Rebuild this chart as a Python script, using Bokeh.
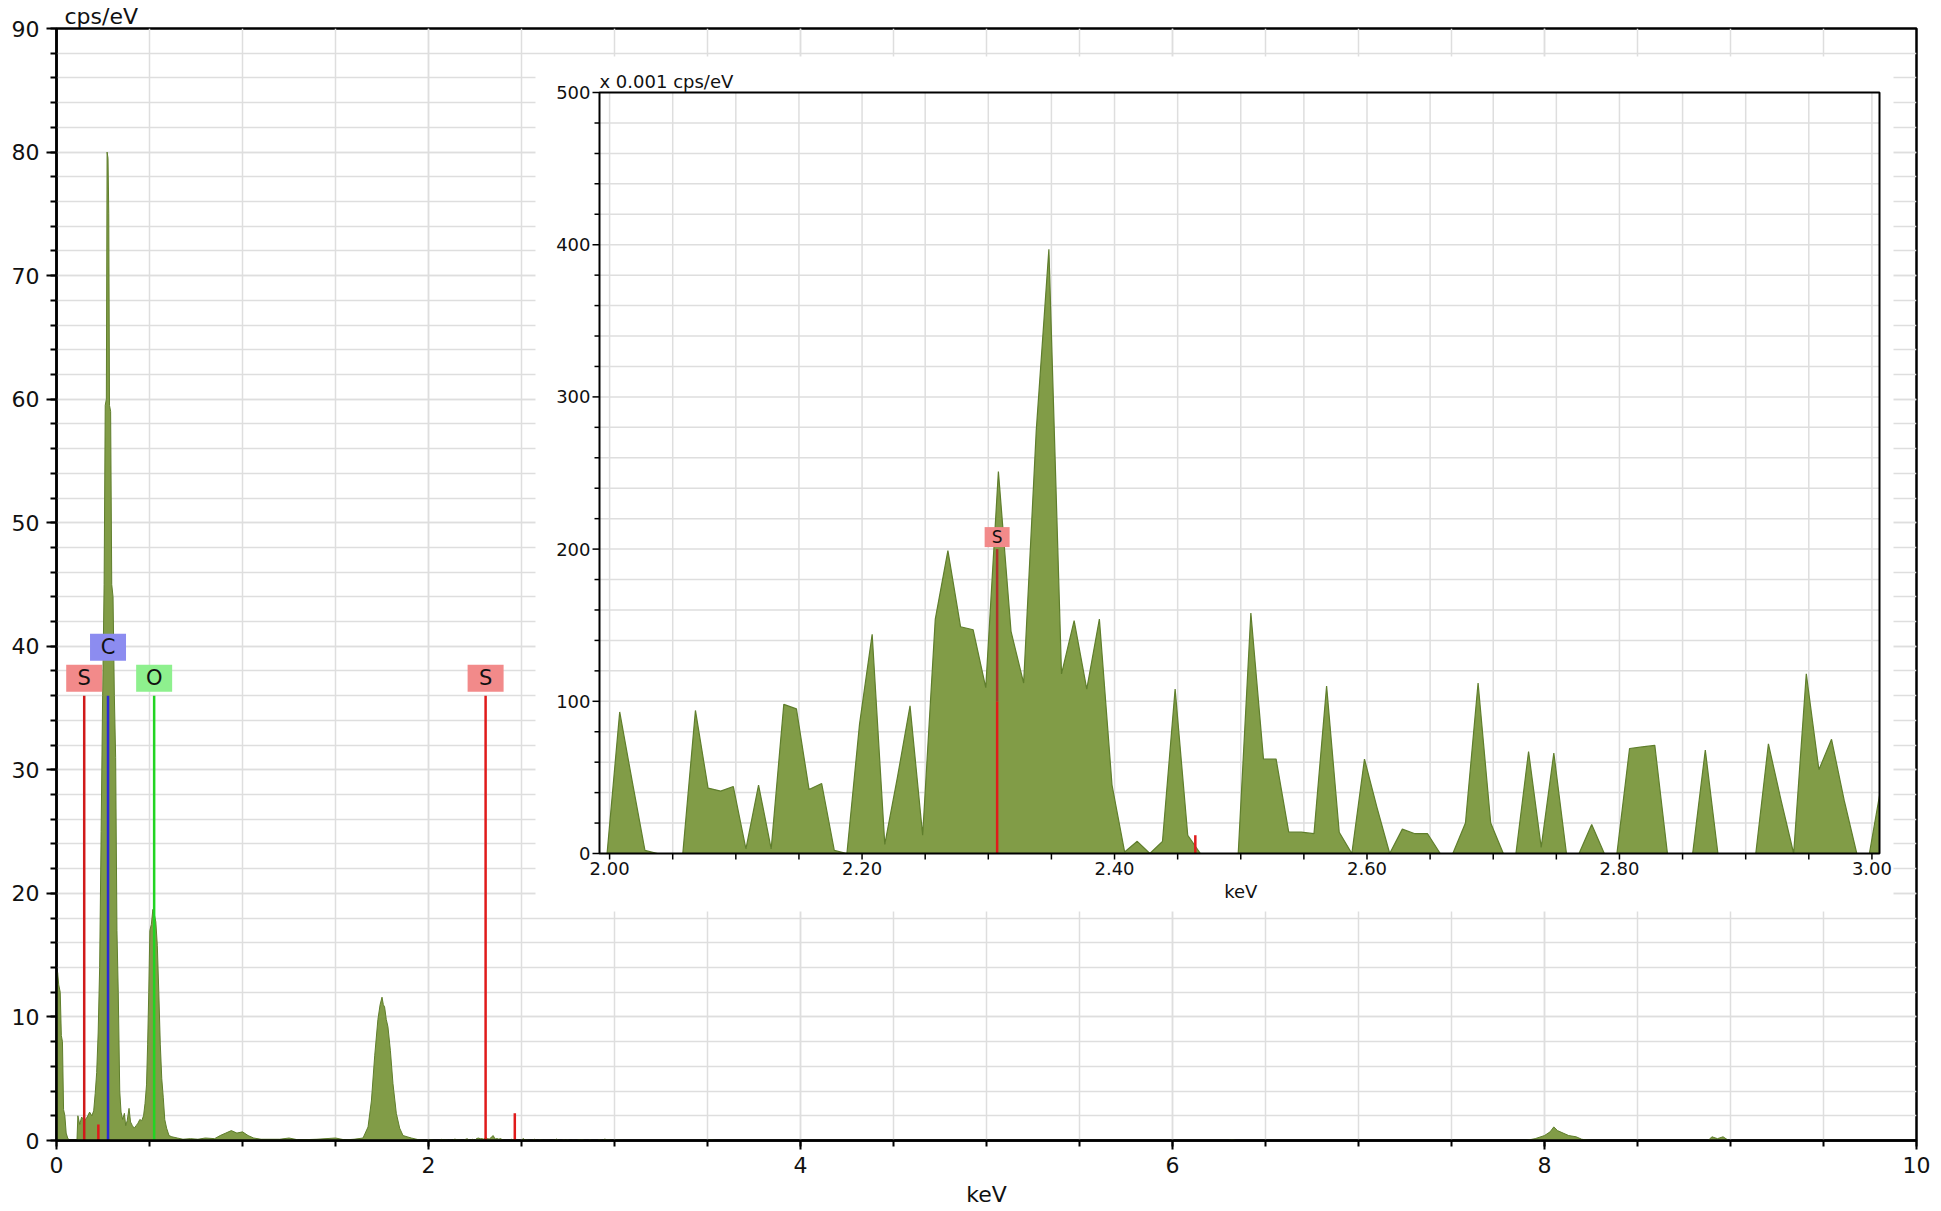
import math
from bokeh.plotting import figure
from bokeh.models import Range1d, SingleIntervalTicker
from bokeh.core.properties import value
from bokeh.embed import file_html
from bokeh.resources import INLINE

# ---------------- data ----------------
# main spectrum (keV, cps/eV) below 2 keV
main_kev_lo = [0.000, 0.006, 0.012, 0.020, 0.026, 0.032, 0.038, 0.045, 0.052, 0.060,
               0.070, 0.110, 0.115, 0.125, 0.135, 0.150, 0.165, 0.178, 0.190, 0.200,
               0.208, 0.216, 0.224, 0.232, 0.240, 0.248, 0.256, 0.262, 0.268, 0.272,
               0.277, 0.281, 0.285, 0.291, 0.297, 0.304, 0.311, 0.318, 0.325, 0.332,
               0.340, 0.347, 0.356, 0.365, 0.372, 0.380, 0.390, 0.398, 0.408, 0.418,
               0.428, 0.438, 0.448, 0.458, 0.468, 0.476, 0.484, 0.490, 0.496, 0.502,
               0.510, 0.518, 0.526, 0.534, 0.542, 0.550, 0.558, 0.566, 0.574, 0.582,
               0.592, 0.605, 0.620, 0.650, 0.680, 0.720, 0.760, 0.800, 0.850, 0.880,
               0.910, 0.940, 0.970, 1.000, 1.030, 1.060, 1.100, 1.200, 1.250, 1.300,
               1.400, 1.500, 1.550, 1.600, 1.648, 1.675, 1.693, 1.711, 1.728, 1.740,
               1.750, 1.757, 1.764, 1.773, 1.782, 1.795, 1.809, 1.827, 1.845, 1.863,
               1.885, 1.908, 1.950, 1.990]
main_cps_lo = [11.5, 13.6, 12.6, 12.0, 8.5, 8.0, 2.5, 2.0, 0.6, 0.2,
               0.0, 0.0, 2.0, 1.3, 1.9, 1.6, 1.9, 2.3, 2.0, 2.4,
               3.8, 5.5, 8.7, 14.0, 25.0, 36.0, 45.0, 59.5, 60.0, 80.0,
               79.5, 75.0, 59.5, 59.0, 45.0, 44.0, 36.0, 31.0, 17.0, 12.0,
               4.0, 2.3, 1.7, 2.2, 1.2, 1.6, 2.6, 1.5, 1.2, 1.0,
               1.2, 1.4, 1.7, 1.6, 2.0, 3.0, 4.5, 7.8, 12.0, 17.0,
               17.5, 18.7, 18.3, 17.7, 15.8, 12.0, 7.8, 5.0, 3.5, 1.7,
               1.0, 0.4, 0.3, 0.2, 0.1, 0.15, 0.1, 0.2, 0.15, 0.4,
               0.6, 0.8, 0.6, 0.7, 0.4, 0.2, 0.1, 0.1, 0.2, 0.05,
               0.1, 0.2, 0.05, 0.1, 0.2, 1.1, 3.2, 6.9, 9.8, 11.0,
               11.6, 11.0, 10.8, 9.8, 9.2, 7.3, 4.6, 2.2, 1.0, 0.4,
               0.3, 0.2, 0.05, 0.0]

# zoomed region 2-3 keV (x 0.001 cps/eV)
inset_kev = [1.998, 2.008, 2.018, 2.028, 2.038, 2.048, 2.058, 2.068, 2.078, 2.088,
             2.098, 2.108, 2.118, 2.128, 2.138, 2.148, 2.158, 2.168, 2.178, 2.188,
             2.198, 2.208, 2.218, 2.228, 2.238, 2.248, 2.258, 2.268, 2.278, 2.288,
             2.298, 2.308, 2.318, 2.328, 2.338, 2.348, 2.358, 2.368, 2.378, 2.388,
             2.398, 2.408, 2.418, 2.428, 2.438, 2.448, 2.458, 2.468, 2.478, 2.488,
             2.498, 2.508, 2.518, 2.528, 2.538, 2.548, 2.558, 2.568, 2.578, 2.588,
             2.598, 2.608, 2.618, 2.628, 2.638, 2.648, 2.658, 2.668, 2.678, 2.688,
             2.698, 2.708, 2.718, 2.728, 2.738, 2.748, 2.758, 2.768, 2.778, 2.788,
             2.798, 2.808, 2.818, 2.828, 2.838, 2.848, 2.858, 2.868, 2.878, 2.888,
             2.898, 2.908, 2.918, 2.928, 2.938, 2.948, 2.958, 2.968, 2.978, 2.988,
             2.998, 3.006]
inset_cps = [0, 93, 47, 2, 0, 0, 0, 94, 43, 41,
             44, 3, 45, 3, 98, 95, 42, 46, 2, 0,
             85, 144, 6, 50, 97, 12, 154, 199, 149, 147,
             109, 251, 146, 112, 278, 397, 118, 153, 108, 154,
             45, 1, 8, 0, 8, 108, 12, 0, 0, 0,
             0, 158, 62, 62, 14, 14, 13, 110, 14, 0,
             62, 30, 0, 16, 13, 13, 0, 0, 20, 112,
             20, 0, 0, 67, 4, 66, 0, 0, 19, 0,
             0, 69, 70, 71, 0, 0, 0, 68, 0, 0,
             0, 0, 72, 35, 0, 118, 55, 75, 35, 0,
             0, 38]

# main spectrum above 3 keV
main_kev_hi = [3.050, 3.500, 3.520, 3.540, 6.300, 6.320, 6.340, 7.900, 7.950, 8.000,
               8.030, 8.050, 8.070, 8.100, 8.130, 8.170, 8.200, 8.250, 8.880, 8.900,
               8.930, 8.960, 8.990, 10.000]
main_cps_hi = [0.0, 0.0, 0.05, 0.0, 0.0, 0.08, 0.0, 0.0, 0.15, 0.4,
               0.7, 1.1, 0.8, 0.6, 0.4, 0.3, 0.1, 0.0, 0.0, 0.3,
               0.15, 0.3, 0.0, 0.0]

# element markers (main chart)
elem_labels = ["S", "C", "O", "S"]
elem_kev = [0.149, 0.277, 0.525, 2.307]
elem_height = [36, 36, 36, 36]
elem_level = [0, 1, 0, 0]
minor_line_kev = [0.225, 2.464]
minor_line_height = [1.3, 2.2]

# element markers (inset)
inset_elem_labels = ["S"]
inset_elem_kev = [2.307]
inset_elem_height = [200]
inset_minor_kev = [2.464]
inset_minor_height = [12]

# tick labels
inset_xtick_labels = ["2.00", "2.20", "2.40", "2.60", "2.80", "3.00"]
inset_xtick_values = [2.0, 2.2, 2.4, 2.6, 2.8, 3.0]
inset_ytick_labels = ["0", "100", "200", "300", "400", "500"]
inset_ytick_values = [0, 100, 200, 300, 400, 500]

# ---------------- style / layout ----------------
FONT = "DejaVu Sans"
GRID = "#dedede"
SPEC_FILL = "#819c47"
SPEC_EDGE = "#5f7e2c"
RED = "#e01b1b"
TXT = "#111111"
elem_line_colors = ["#d01a1a", "#2a2ad6", "#22d422", "#e01b1b"]
elem_box_colors = ["#f28a8a", "#8c8cf0", "#8ef08e", "#f28a8a"]

FIG_W, FIG_H = 1940, 1210
B_L, B_R, B_T, B_B = 56, 24, 28, 70
FRAME_W = FIG_W - B_L - B_R
FRAME_H = FIG_H - B_T - B_B
X_RANGE = (0, 10)
Y_RANGE = (0, 90)
PY_MAIN = FRAME_H / (Y_RANGE[1] - Y_RANGE[0])

# inset box in frame pixels (from frame left / bottom)
IN_L, IN_R, IN_B, IN_T = 543, 1823, 287, 1048
INSET_X = (1.992, 3.006)
INSET_Y = (0, 500)
SX = (IN_R - IN_L) / (INSET_X[1] - INSET_X[0])
SY = (IN_T - IN_B) / (INSET_Y[1] - INSET_Y[0])
ix0 = INSET_X[0] - IN_L / SX
iy0 = INSET_Y[0] - IN_B / SY

p = figure(width=FIG_W, height=FIG_H, output_backend="svg", toolbar_location=None,
           x_range=Range1d(*X_RANGE), y_range=Range1d(*Y_RANGE),
           min_border_left=B_L, min_border_right=B_R,
           min_border_top=B_T, min_border_bottom=B_B,
           background_fill_color="white", border_fill_color="white",
           title="cps/eV")
p.title.align = "left"
p.title.offset = 8
p.title.standoff = 0
p.title.text_font = FONT
p.title.text_font_size = "22px"
p.title.text_font_style = "normal"
p.title.text_color = TXT

p.extra_x_ranges = {"ix": Range1d(ix0, ix0 + FRAME_W / SX)}
p.extra_y_ranges = {"iy": Range1d(iy0, iy0 + FRAME_H / SY)}
p.outline_line_color = "black"
p.outline_line_width = 2.5

xt = SingleIntervalTicker(interval=2, num_minor_ticks=4)
yt = SingleIntervalTicker(interval=10, num_minor_ticks=5)
p.xaxis.ticker = xt
p.yaxis.ticker = yt
p.xgrid.ticker = xt
p.ygrid.ticker = yt
for g in (p.xgrid, p.ygrid):
    g.grid_line_color = GRID
    g.grid_line_width = 1.5
    g.minor_grid_line_color = GRID
    g.minor_grid_line_width = 1.5
for ax in (p.xaxis, p.yaxis):
    ax.axis_line_color = "black"
    ax.axis_line_width = 2.5
    ax.major_tick_line_color = "black"
    ax.major_tick_line_width = 2
    ax.minor_tick_line_color = "black"
    ax.minor_tick_line_width = 2
    ax.major_tick_in = 0
    ax.minor_tick_in = 0
    ax.major_label_text_font = FONT
    ax.major_label_text_font_size = "22px"
    ax.major_label_text_color = TXT
p.xaxis.major_tick_out = 9
p.xaxis.minor_tick_out = 6
p.xaxis.major_label_standoff = 7
p.yaxis.major_tick_out = 10
p.yaxis.minor_tick_out = 6
p.yaxis.major_label_standoff = 7
p.xaxis.axis_label = "keV"
p.xaxis.axis_label_standoff = 6
p.xaxis.axis_label_text_font = FONT
p.xaxis.axis_label_text_font_size = "22px"
p.xaxis.axis_label_text_font_style = "normal"
p.xaxis.axis_label_text_color = TXT

# ---------------- main spectrum ----------------
main_x = main_kev_lo + inset_kev + main_kev_hi
main_y = main_cps_lo + [v * 0.001 for v in inset_cps] + main_cps_hi
p.varea(x=main_x, y1=0, y2=main_y, fill_color=SPEC_FILL)
p.line(x=main_x, y=main_y, line_color=SPEC_EDGE, line_width=1)

p.segment(x0=minor_line_kev, y0=[0] * len(minor_line_kev), x1=minor_line_kev,
          y1=minor_line_height, line_color=RED, line_width=2.5)
p.segment(x0=elem_kev, y0=[0] * len(elem_kev), x1=elem_kev, y1=elem_height,
          line_color=elem_line_colors, line_width=2.5)
box_y = [h + (4 + 13.5 + lv * 31) / PY_MAIN for h, lv in zip(elem_height, elem_level)]
p.rect(x=elem_kev, y=box_y, width=36, height=27, width_units="screen",
       height_units="screen", fill_color=elem_box_colors, line_color=None)
p.text(x=elem_kev, y=box_y, text=elem_labels, text_align="center", text_baseline="middle",
       text_font=value(FONT), text_font_size="21px", text_color=TXT)

# ---------------- inset ----------------
R = dict(x_range_name="ix", y_range_name="iy")
p.quad(left=[INSET_X[0] - 64 / SX], right=[INSET_X[1] + 14 / SX],
       bottom=[INSET_Y[0] - 58 / SY], top=[INSET_Y[1] + 36 / SY],
       fill_color="white", line_color=None, **R)

gx = [round(2.0 + 0.05 * i, 2) for i in range(21)]
gy = [20 * i for i in range(1, 25)]
p.segment(x0=gx, y0=[INSET_Y[0]] * len(gx), x1=gx, y1=[INSET_Y[1]] * len(gx),
          line_color=GRID, line_width=1.5, **R)
p.segment(x0=[INSET_X[0]] * len(gy), y0=gy, x1=[INSET_X[1]] * len(gy), y1=gy,
          line_color=GRID, line_width=1.5, **R)

p.varea(x=inset_kev, y1=0, y2=inset_cps, fill_color=SPEC_FILL, **R)
p.line(x=inset_kev, y=inset_cps, line_color=SPEC_EDGE, line_width=1.2, **R)

p.segment(x0=inset_minor_kev, y0=[0] * len(inset_minor_kev), x1=inset_minor_kev,
          y1=inset_minor_height, line_color=RED, line_width=2.5, **R)
split = [h / 2 for h in inset_elem_height]
p.segment(x0=inset_elem_kev, y0=[0] * len(inset_elem_kev), x1=inset_elem_kev,
          y1=split, line_color=RED, line_width=2.5, **R)
p.segment(x0=inset_elem_kev, y0=split, x1=inset_elem_kev,
          y1=inset_elem_height, line_color="#b0322c", line_width=2.5, **R)
ibox_y = [h + (2 + 10) / SY for h in inset_elem_height]
p.rect(x=inset_elem_kev, y=ibox_y, width=25, height=20, width_units="screen",
       height_units="screen", fill_color="#f28a8a", line_color=None, **R)
p.text(x=inset_elem_kev, y=ibox_y, text=inset_elem_labels, text_align="center",
       text_baseline="middle", text_font=value(FONT), text_font_size="17px",
       text_color=TXT, **R)

# inset frame
p.quad(left=[INSET_X[0]], right=[INSET_X[1]], bottom=[INSET_Y[0]], top=[INSET_Y[1]],
       fill_color=None, line_color="black", line_width=2, **R)

# inset ticks
p.segment(x0=gx, y0=[0] * len(gx), x1=gx, y1=[-6 / SY] * len(gx),
          line_color="black", line_width=1.5, **R)
yticks = [20 * i for i in range(0, 26)]
ylen = [7 if v % 100 == 0 else 5 for v in yticks]
p.segment(x0=[INSET_X[0]] * len(yticks), y0=yticks,
          x1=[INSET_X[0] - L / SX for L in ylen], y1=yticks,
          line_color="black", line_width=1.5, **R)

p.text(x=inset_xtick_values, y=[0] * len(inset_xtick_values), text=inset_xtick_labels,
       y_offset=8, text_align="center", text_baseline="top",
       text_font=value(FONT), text_font_size="18px", text_color=TXT, **R)
p.text(x=[INSET_X[0]] * len(inset_ytick_values), y=inset_ytick_values,
       text=inset_ytick_labels, x_offset=-9, text_align="right", text_baseline="middle",
       text_font=value(FONT), text_font_size="18px", text_color=TXT, **R)
p.text(x=[2.5], y=[0], text=["keV"], y_offset=38, text_align="center",
       text_baseline="middle", text_font=value(FONT), text_font_size="18px",
       text_color=TXT, **R)
p.text(x=[INSET_X[0]], y=[INSET_Y[1]], text=["x 0.001 cps/eV"], y_offset=-11,
       text_align="left", text_baseline="middle", text_font=value(FONT),
       text_font_size="18px", text_color=TXT, **R)

open("out.html", "w").write(file_html(p, INLINE))
